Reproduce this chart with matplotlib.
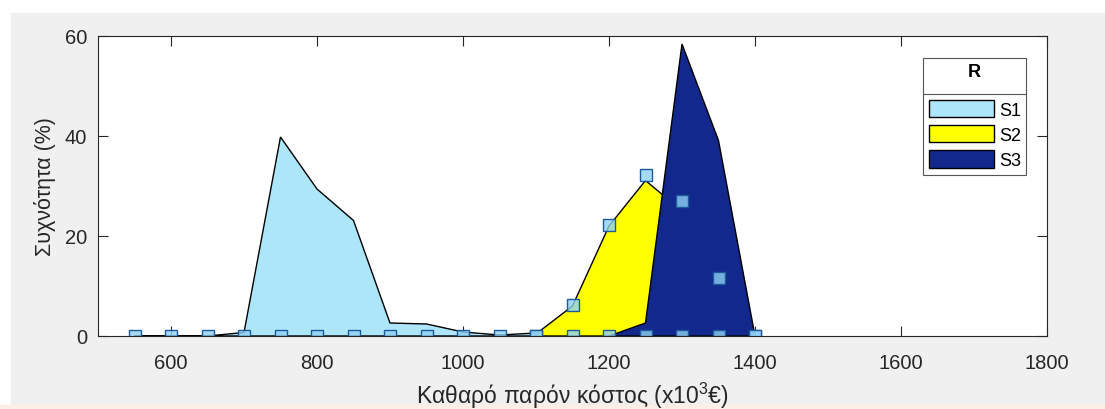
import matplotlib
matplotlib.use("Agg")
import matplotlib.pyplot as plt
from matplotlib.patches import Patch, Rectangle
from matplotlib.lines import Line2D

plt.rcParams["font.family"] = ["Liberation Sans", "DejaVu Sans"]
plt.rcParams["mathtext.fontset"] = "custom"
plt.rcParams["mathtext.rm"] = "Liberation Sans"

# frequency polygons per scenario (cost in 10^3 EUR, frequency in %)
s1_x = [550, 600, 650, 700, 750, 800, 850, 900, 950, 1000, 1050, 1100]
s1_y = [0, 0, 0, 0.7, 39.8, 29.4, 23.1, 2.6, 2.4, 0.8, 0.2, 0.6]
s2_x = [1100, 1150, 1200, 1250, 1300, 1350, 1400]
s2_y = [0.4, 6.0, 22.0, 31.1, 25.0, 5.0, 0]
s3_x = [1200, 1250, 1300, 1350, 1400]
s3_y = [0, 2.6, 58.4, 39.1, 0]

# sampled points
base_x = [550, 600, 650, 700, 750, 800, 850, 900, 950, 1000, 1050, 1100,
          1150, 1200, 1250, 1300, 1350, 1400]
base_y = [0] * len(base_x)
pts_x = [1100, 1150, 1200, 1250, 1300, 1350, 1400]
pts_y = [0, 6.3, 22.2, 32.2, 27.1, 11.7, 0]

labels = ["S1", "S2", "S3"]
colors = ["#aee6f9", "#ffff00", "#13288c"]
axc = "#262626"

fig = plt.figure(figsize=(11.05, 4.10), dpi=100, facecolor="white")
W, H = 1105, 410
fig.patches.append(Rectangle((11 / W, 0), 1 - 11 / W, 396 / H,
                             transform=fig.transFigure, color="#f0f0f0", zorder=-10))
fig.patches.append(Rectangle((0, 0), 1, 4 / H, transform=fig.transFigure,
                             color="#fcefe6", zorder=-9))
ax = fig.add_axes([98 / W, 73 / H, 949 / W, 300 / H])

for xs, ys, c, z in [(s1_x, s1_y, colors[0], 2), (s2_x, s2_y, colors[1], 3),
                     (s3_x, s3_y, colors[2], 4)]:
    ax.fill(xs + [xs[-1], xs[0]], ys + [0, 0], facecolor=c, edgecolor="black",
            lw=1.0, zorder=z)

mk = dict(ls="none", marker="s", ms=8, mfc=(0.56, 0.82, 0.96, 0.8),
          mec="#1d5a9c", mew=1.0, zorder=6)
ax.plot(base_x, base_y, **mk)
ax.plot(pts_x, pts_y, **mk)

ax.set_xlim(500, 1800)
ax.set_ylim(0, 60)
ax.set_xticks(range(600, 1801, 200))
ax.set_yticks([0, 20, 40, 60])
ax.tick_params(direction="in", length=7, width=0.8, colors=axc, labelsize=14.5,
               top=True, right=True)
ax.tick_params(axis="x", pad=12)
ax.tick_params(axis="y", pad=8)
for sp in ax.spines.values():
    sp.set_color(axc)
    sp.set_linewidth(0.8)
    sp.set_zorder(7)
ax.set_xlabel(r"Καθαρό παρόν κόστος (x10$^{3}$€)", fontsize=16.5, color=axc,
              labelpad=6)
ax.set_ylabel("Συχνότητα (%)", fontsize=15.5, color=axc, labelpad=6)

handles = [Patch(facecolor=c, edgecolor="black", lw=1.0) for c in colors]
leg = ax.legend(handles, labels, title="R", loc="upper right",
                bbox_to_anchor=(0.978, 0.927), fontsize=13, fancybox=False,
                edgecolor="#555555", framealpha=1, borderaxespad=0,
                handlelength=3.6, handleheight=1.1, handletextpad=0.28,
                labelspacing=0.36, borderpad=0.3)
leg.get_title().set_fontweight("bold")
leg.get_title().set_fontsize(13)
leg._legend_box.sep = 14
leg.get_frame().set_linewidth(0.8)
leg.set_zorder(8)

fig.canvas.draw()
lb = leg.get_window_extent()
hb = leg.legend_handles[0].get_window_extent()
sep_y = (hb.y1 + 6) / fig.bbox.height
fig.add_artist(Line2D([lb.x0 / fig.bbox.width, lb.x1 / fig.bbox.width],
                      [sep_y, sep_y], color="#555555", lw=0.8, zorder=9))

fig.savefig("out.png", dpi=100, facecolor=fig.get_facecolor())
